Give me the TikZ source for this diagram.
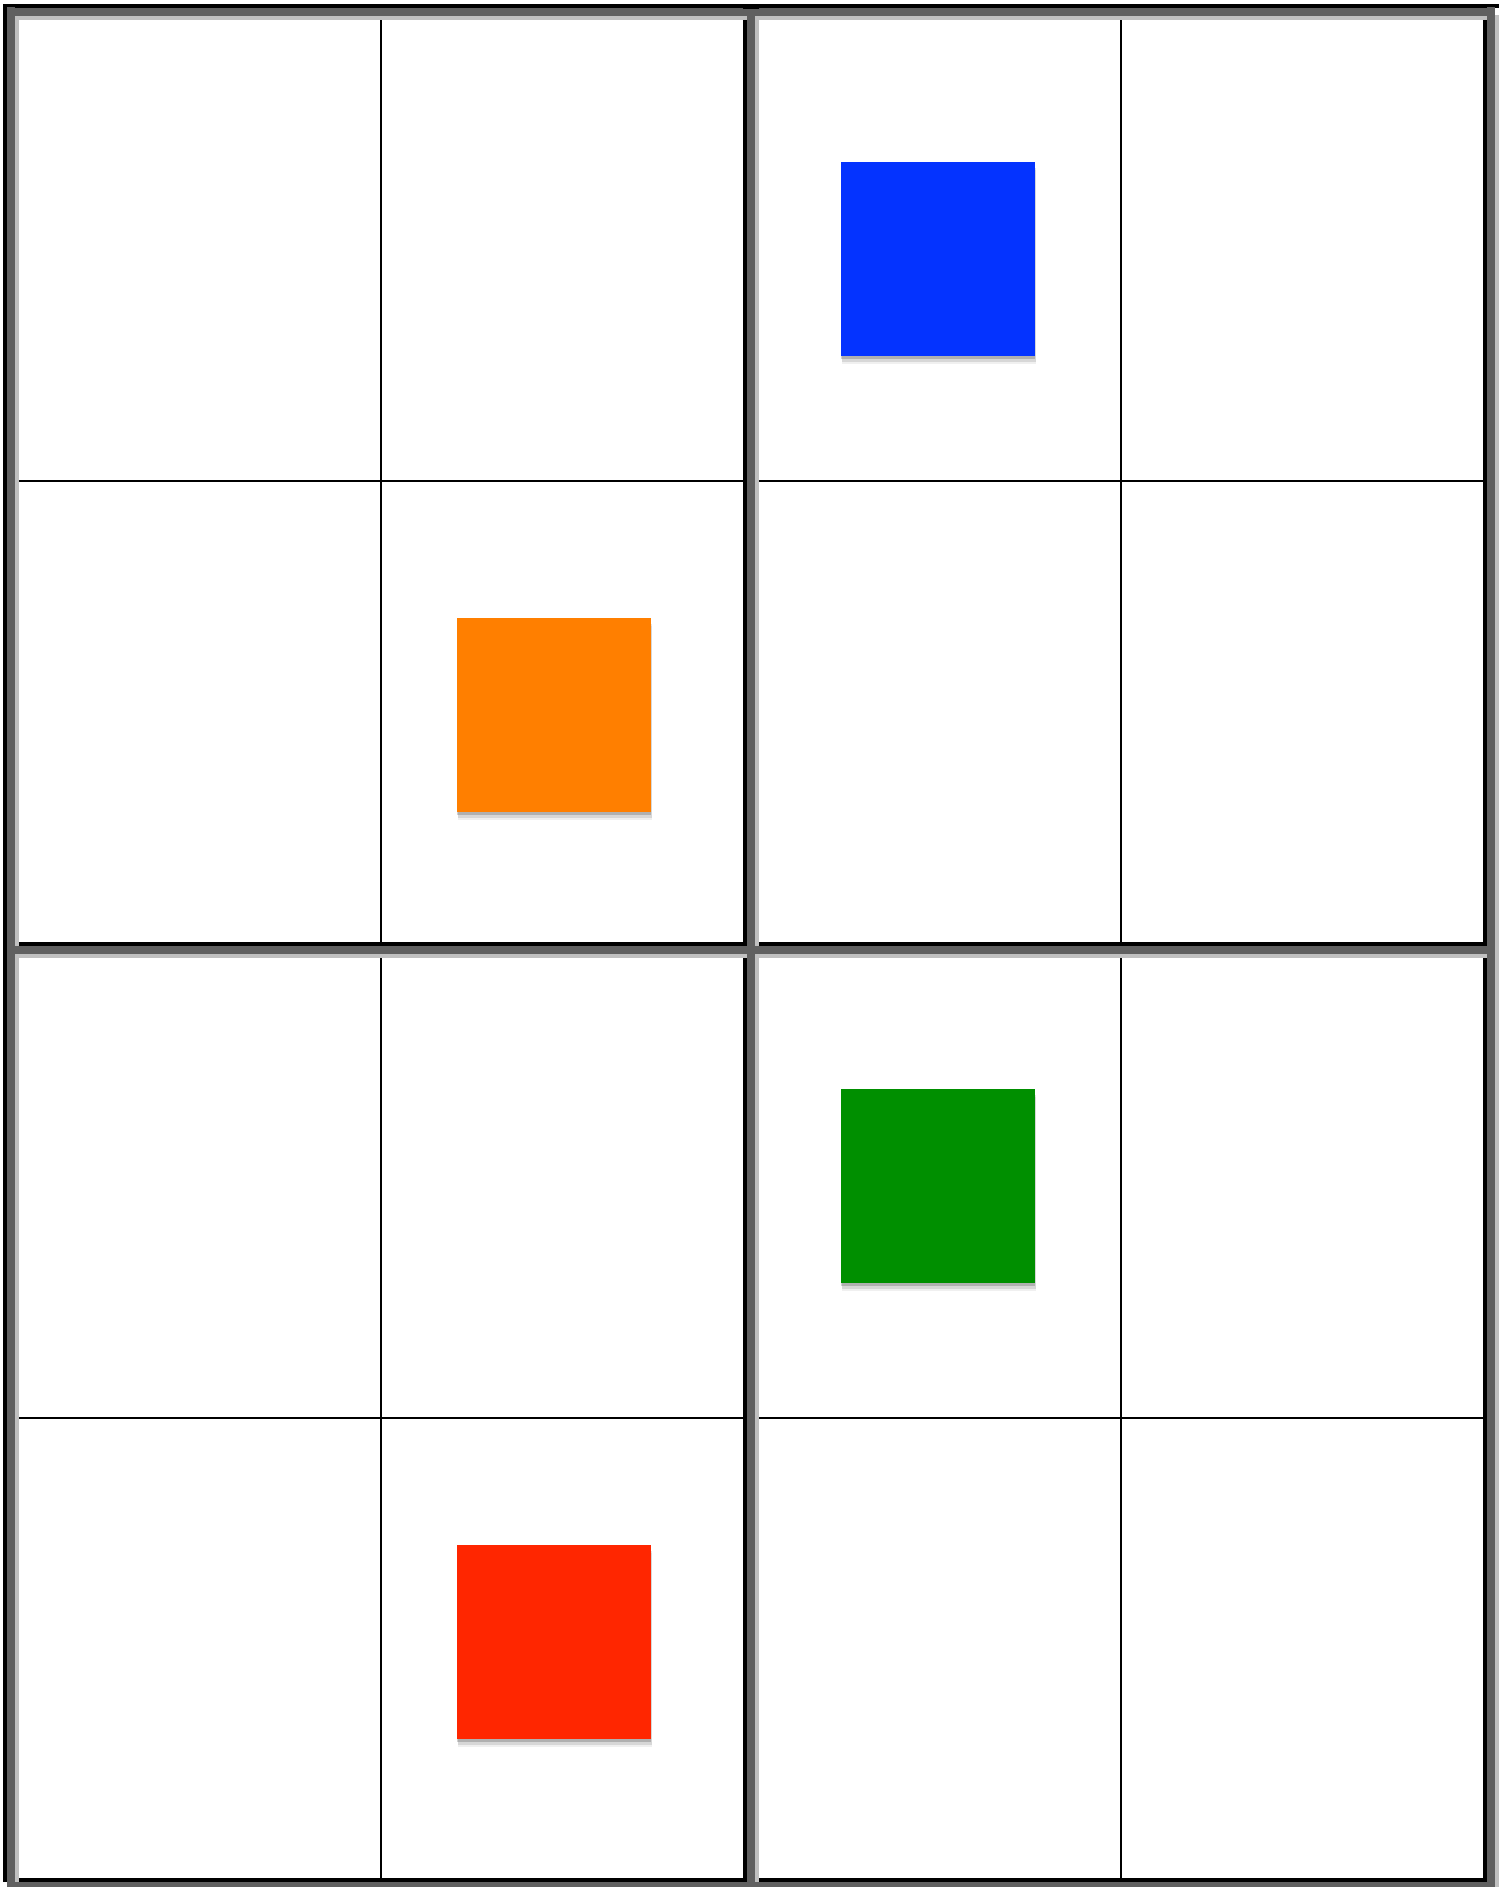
\documentclass[tikz,border=0pt]{standalone}
\usetikzlibrary{calc}
\definecolor{darkline}{HTML}{606060}
\definecolor{lightline}{HTML}{C0C0C0}
\definecolor{sqblue}{HTML}{0433FF}
\definecolor{sqorange}{HTML}{FF7F00}
\definecolor{sqgreen}{HTML}{008F00}
\definecolor{sqred}{HTML}{FF2600}
\tikzset{
  thinline/.style={line width=2.6pt, black},
  colsq/.style={rectangle, minimum size=194pt, inner sep=0pt, outer sep=0pt,
    preaction={fill=black, opacity=0.06, transform canvas={xshift=1.5pt,yshift=-8pt}},
    preaction={fill=black, opacity=0.10, transform canvas={xshift=1pt,yshift=-5.5pt}},
    preaction={fill=black, opacity=0.18, transform canvas={xshift=0.5pt,yshift=-3pt}}},
}
\begin{document}
\begin{tikzpicture}[x=1pt,y=-1pt]
\useasboundingbox (0,0) rectangle (1507,1887);
\fill[white] (0,0) rectangle (1507,1887);
% thin cell dividers
\draw[thinline] (381,19) -- (381,1878);
\draw[thinline] (1121,19) -- (1121,1878);
\draw[thinline] (19,481) -- (1483,481);
\draw[thinline] (19,1418) -- (1483,1418);
% thick lines: black layer
\foreach \x in {3,743,1483} \fill[black] (\x,4) rectangle (\x+4,1882);
\foreach \y in {4,942,1878} \fill[black] (3,\y) rectangle (\ifnum\y=4 1499\else 1487\fi,\y+4);
% thick lines: light layer
\foreach \x in {3,743,1483} \fill[lightline] (\x+12,15) rectangle (\x+16,1887);
\foreach \y in {4,942,1878} \fill[lightline] (15,\y+12) rectangle (1487,\y+16);
% thick lines: dark grey layer
\foreach \x in {3,743,1483} \fill[darkline] (\x+4,7) rectangle (\x+12,1887);
\foreach \y in {4,942,1878} \fill[darkline] (7,\y+4) rectangle (1495,\y+12);
\fill[black] (743,4) rectangle (759,9);
% coloured squares
\node[colsq, fill=sqblue] (blue) at (937.5,259.2) {};
\node[colsq, fill=sqorange] (orange) at (553.7,715) {};
\node[colsq, fill=sqgreen] (green) at (937.5,1186) {};
\node[colsq, fill=sqred] (red) at (553.7,1642.3) {};
\end{tikzpicture}
\end{document}
